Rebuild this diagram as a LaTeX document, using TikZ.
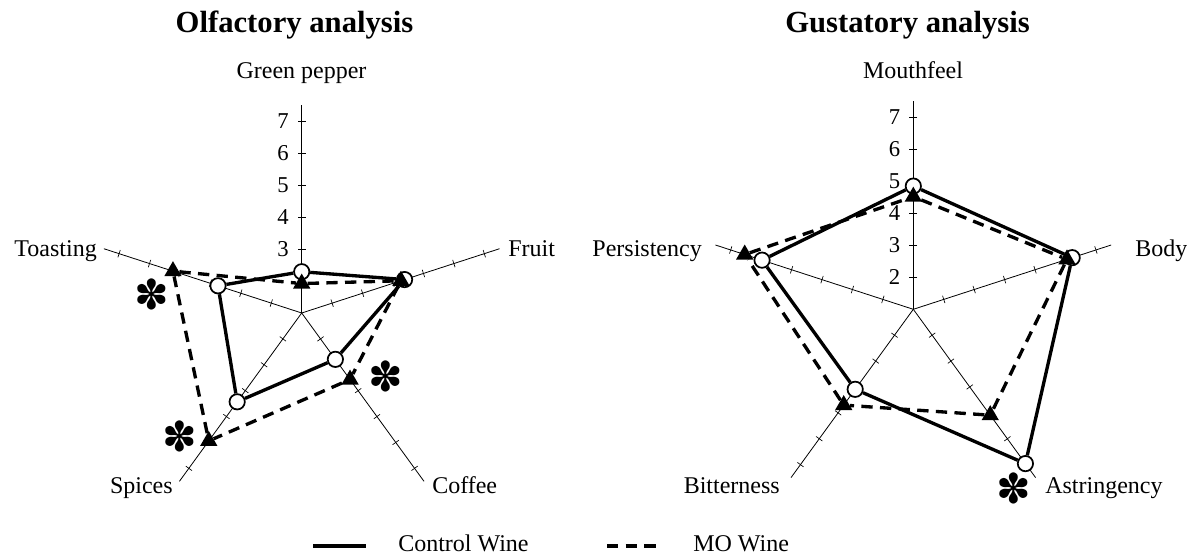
\documentclass[tikz,border=0pt]{standalone}
\usepackage{fontspec}
\setmainfont{Liberation Serif}
\newfontfamily\starfont{DejaVu Sans}
\usetikzlibrary{shapes.geometric}
\begin{document}
\begin{tikzpicture}
[x=0.75pt,y=0.75pt,
  axisdecorate/.style={line width=0.6pt},
  tickdecorate/.style={line width=0.5pt},
  controldecorate/.style={line width=2.5pt},
  modecorate/.style={line width=2.5pt,dash pattern=on 8.5pt off 5.5pt},
  circledecorate/.style={shape=circle,draw,fill=white,line width=1.3pt,inner sep=0pt,minimum size=11.5pt},
  triangledecorate/.style={shape=regular polygon,regular polygon sides=3,fill,inner sep=0pt,minimum size=15pt},
  titledecorate/.style={font=\fontsize{23}{28}\selectfont\bfseries,anchor=base,inner sep=0pt},
  labeldecorate/.style={font=\fontsize{18}{22}\selectfont,inner sep=0pt},
  numberdecorate/.style={font=\fontsize{17}{20}\selectfont,anchor=east,inner sep=0pt},
  stardecorate/.style={font=\starfont\fontsize{31}{34}\selectfont,inner sep=0pt}]
\useasboundingbox (0,0) rectangle (1187,554);

%% titles
\node (otitle) at (294.5,521) [titledecorate] {Olfactory analysis};
\node (gtitle) at (907.5,521) [titledecorate] {Gustatory analysis};

%% olfactory chart
\begin{scope}[shift={(301.7,241)},x=24pt,y=24pt]
  \coordinate (ocentre) at (0,0);
  \foreach \axisname/\a in {1/90, 2/18, 3/-54, 4/-126, 5/162}
  {
    \coordinate (oaxis\axisname) at (\a:6.5);
    \draw[axisdecorate] (ocentre) -- (oaxis\axisname);
    \foreach \r in {1,...,6}
      \draw[tickdecorate,shift={(\a:\r)},rotate=\a] (0,-0.12) -- (0,0.12);
  }
  \foreach \v in {3,...,7}
    \node (onum\v) at (-0.4,{\v-1}) [numberdecorate] {\v};
  %% control wine
  \foreach \nodename/\a/\r in {1/90/1.29, 2/18/3.38, 3/-54/1.79, 4/-126/3.43, 5/162/2.75}
    \node (oc\nodename) at (\a:\r) [circledecorate] {};
  \draw[controldecorate] (oc1) -- (oc2) -- (oc3) -- (oc4) -- (oc5) -- (oc1);
  %% MO wine
  \foreach \nodename/\a/\r in {1/90/0.92, 2/18/3.26, 3/-54/2.57, 4/-126/4.94, 5/162/4.23}
    \node (om\nodename) at (\a:\r) [triangledecorate] {};
  \draw[modecorate] (om1) -- (om2) -- (om3) -- (om4) -- (om5) -- (om1);
\end{scope}

%% gustatory chart
\begin{scope}[shift={(913.3,244.7)},x=24pt,y=24pt]
  \coordinate (gcentre) at (0,0);
  \foreach \axisname/\a in {1/90, 2/18, 3/-54, 4/-126, 5/162}
  {
    \coordinate (gaxis\axisname) at (\a:6.5);
    \draw[axisdecorate] (gcentre) -- (gaxis\axisname);
    \foreach \r in {1,...,6}
      \draw[tickdecorate,shift={(\a:\r)},rotate=\a] (0,-0.12) -- (0,0.12);
  }
  \foreach \v in {2,...,7}
    \node (gnum\v) at (-0.4,{\v-1}) [numberdecorate] {\v};
  %% control wine
  \foreach \nodename/\a/\r in {1/90/3.85, 2/18/5.22, 3/-54/5.96, 4/-126/3.09, 5/162/4.97}
    \node (gc\nodename) at (\a:\r) [circledecorate] {};
  \draw[controldecorate] (gc1) -- (gc2) -- (gc3) -- (gc4) -- (gc5) -- (gc1);
  %% MO wine
  \foreach \nodename/\a/\r in {1/90/3.52, 2/18/5.05, 3/-54/4.09, 4/-126/3.70, 5/162/5.54}
    \node (gm\nodename) at (\a:\r) [triangledecorate] {};
  \draw[modecorate] (gm1) -- (gm2) -- (gm3) -- (gm4) -- (gm5) -- (gm1);
\end{scope}

%% axis labels
\node (ogreen) at (301.5,475) [labeldecorate,anchor=base] {Green pepper};
\node (ofruit) at (508,297) [labeldecorate,anchor=base west] {Fruit};
\node (ocoffee) at (432,61) [labeldecorate,anchor=base west] {Coffee};
\node (ospices) at (173,61) [labeldecorate,anchor=base east] {Spices};
\node (otoast) at (97,297) [labeldecorate,anchor=base east] {Toasting};
\node (gmouth) at (913,475) [labeldecorate,anchor=base] {Mouthfeel};
\node (gbody) at (1135,297) [labeldecorate,anchor=base west] {Body};
\node (gastr) at (1045,61) [labeldecorate,anchor=base west] {Astringency};
\node (gbitter) at (780,61) [labeldecorate,anchor=base east] {Bitterness};
\node (gpersist) at (702,297) [labeldecorate,anchor=base east] {Persistency};

%% significance marks
\node (ostar1) at (151.7,260) [stardecorate] {✽};
\node (ostar2) at (386,178) [stardecorate] {✽};
\node (ostar3) at (180,117.3) [stardecorate] {✽};
\node (gstar1) at (1014,65.7) [stardecorate] {✽};

%% legend
\coordinate (controlstart) at (313,8);
\coordinate (controlend) at (366,8);
\draw[controldecorate] (controlstart) -- (controlend);
\node (controltext) at (398,3) [labeldecorate,anchor=base west] {Control Wine};
\coordinate (mostart) at (607,8);
\coordinate (moend) at (659,8);
\draw[modecorate] (mostart) -- (moend);
\node (motext) at (693,3) [labeldecorate,anchor=base west] {MO Wine};
\end{tikzpicture}
\end{document}
